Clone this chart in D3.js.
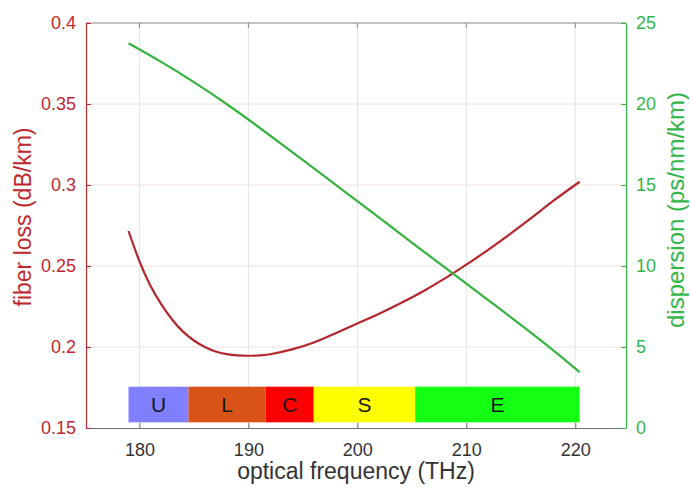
<!DOCTYPE html>
<html>
<head>
<meta charset="utf-8">
<script src="https://cdn.jsdelivr.net/npm/d3@7"></script>
<style>
  body { margin: 0; background: #fff; }
  text { font-family: "Liberation Sans", Arial, sans-serif; }
</style>
</head>
<body>
<svg width="691" height="490"></svg>
<script>
var svg = d3.select("svg"),
  width = +svg.attr("width"),
  height = +svg.attr("height");

// loss curve (dB/km) vs frequency (THz)
var lossFreq = [179.0, 180, 181, 182, 183, 184, 185, 186, 187, 188, 189, 190, 191, 192, 194, 196, 198, 200, 202, 204, 206, 208, 210, 212, 214, 216, 218, 220.4];
var lossVal = [0.2716, 0.253, 0.238, 0.2265, 0.217, 0.2095, 0.204, 0.2, 0.1972, 0.1956, 0.1948, 0.1946, 0.1948, 0.1955, 0.1985, 0.2028, 0.2085, 0.2145, 0.2205, 0.2271, 0.2343, 0.2422, 0.2508, 0.26, 0.2697, 0.2798, 0.2903, 0.302];

// dispersion (ps/nm/km)
var dispFreq = [179.0, 182, 185, 188, 191, 194, 197, 200, 203, 206, 209, 212, 215, 218, 220.4];
var dispVal = [23.75, 22.6, 21.35, 20.0, 18.55, 17.05, 15.53, 14.0, 12.47, 10.94, 9.42, 7.9, 6.36, 4.78, 3.45];

// transmission bands
var bandNames = ["U", "L", "C", "S", "E"];
var bandStart = [179.0, 184.5, 191.6, 196.0, 205.3];
var bandEnd = [184.5, 191.6, 196.0, 205.3, 220.4];
var bandColors = ["#7f7fff", "#d95319", "#ff0000", "#ffff00", "#14ff14"];

var xTicks = [180, 190, 200, 210, 220];
var lossTicks = [0.15, 0.2, 0.25, 0.3, 0.35, 0.4];
var dispTicks = [0, 5, 10, 15, 20, 25];

var redAxis = "#c0272d",
  redLine = "#b3262c",
  greenAxis = "#33b548",
  greenLine = "#35b33f";

var margin = { left: 86, right: 65, top: 23, bottom: 62 };
var x = d3.scaleLinear().domain([175.1, 224.65]).range([margin.left, width - margin.right]);
var yL = d3.scaleLinear().domain([0.15, 0.4]).range([height - margin.bottom, margin.top]);
var yR = d3.scaleLinear().domain([0, 25]).range([height - margin.bottom, margin.top]);

var x0 = margin.left, x1 = width - margin.right, yB = height - margin.bottom, yT = margin.top;

// grid
svg.append("g")
  .selectAll("line")
  .data(xTicks)
  .enter()
  .append("line")
  .attr("x1", function (d) { return x(d); })
  .attr("x2", function (d) { return x(d); })
  .attr("y1", yT)
  .attr("y2", yB)
  .attr("stroke", "#e4e4e4")
  .attr("stroke-width", 1);

svg.append("g")
  .selectAll("line")
  .data(lossTicks.slice(1, -1))
  .enter()
  .append("line")
  .attr("x1", x0)
  .attr("x2", x1)
  .attr("y1", function (d) { return yL(d); })
  .attr("y2", function (d) { return yL(d); })
  .attr("stroke", "#f0e0e0")
  .attr("stroke-width", 1);

// band strip
var barTop = 0.1755, barBot = 0.1535;
var bands = bandNames.map(function (n, i) {
  return { name: n, a: bandStart[i], b: bandEnd[i], c: bandColors[i] };
});
svg.append("g")
  .selectAll("rect")
  .data(bands)
  .enter()
  .append("rect")
  .attr("x", function (d) { return x(d.a); })
  .attr("width", function (d) { return x(d.b) - x(d.a); })
  .attr("y", yL(barTop))
  .attr("height", yL(barBot) - yL(barTop))
  .attr("fill", function (d) { return d.c; });

svg.append("g")
  .selectAll("text")
  .data(bands)
  .enter()
  .append("text")
  .attr("x", function (d) { return x((d.a + d.b) / 2); })
  .attr("y", yL((barTop + barBot) / 2))
  .attr("dy", "0.36em")
  .attr("text-anchor", "middle")
  .attr("font-size", 21)
  .attr("fill", "#161616")
  .text(function (d) { return d.name; });

// curves
var lossLine = d3.line()
  .x(function (d, i) { return x(lossFreq[i]); })
  .y(function (d) { return yL(d); })
  .curve(d3.curveNatural);

var dispLine = d3.line()
  .x(function (d, i) { return x(dispFreq[i]); })
  .y(function (d) { return yR(d); })
  .curve(d3.curveNatural);

svg.append("path")
  .datum(lossVal)
  .attr("d", lossLine)
  .attr("fill", "none")
  .attr("stroke", redLine)
  .attr("stroke-width", 2.2);

svg.append("path")
  .datum(dispVal)
  .attr("d", dispLine)
  .attr("fill", "none")
  .attr("stroke", greenLine)
  .attr("stroke-width", 2.2);

// box / axes
svg.append("line").attr("x1", x0).attr("x2", x1).attr("y1", yT).attr("y2", yT)
  .attr("stroke", "#8a8a8a").attr("stroke-width", 1.2);

var xAxis = svg.append("g")
  .attr("transform", "translate(0," + yB + ")")
  .call(d3.axisBottom(x).tickValues(xTicks).tickSizeInner(-5).tickSizeOuter(0).tickPadding(15).tickFormat(d3.format("d")));
xAxis.select(".domain").attr("stroke", "#6e6e6e").attr("stroke-width", 1.2);
xAxis.selectAll(".tick line").attr("stroke", "#6e6e6e");
xAxis.selectAll("text").attr("font-size", 18).attr("fill", "#333333")
  .attr("font-family", "'Liberation Sans', Arial, sans-serif");

// top ticks
svg.append("g")
  .selectAll("line")
  .data(xTicks)
  .enter()
  .append("line")
  .attr("x1", function (d) { return x(d); })
  .attr("x2", function (d) { return x(d); })
  .attr("y1", yT)
  .attr("y2", yT + 5)
  .attr("stroke", "#8a8a8a");

var yAxisL = svg.append("g")
  .attr("transform", "translate(" + x0 + ",0)")
  .call(d3.axisLeft(yL).tickValues(lossTicks).tickSizeInner(-5).tickSizeOuter(0).tickPadding(10).tickFormat(function (d) { return String(+d.toFixed(2)); }));
yAxisL.select(".domain").attr("stroke", redAxis).attr("stroke-width", 1.2);
yAxisL.selectAll(".tick line").attr("stroke", redAxis);
yAxisL.selectAll("text").attr("font-size", 18).attr("fill", redAxis)
  .attr("font-family", "'Liberation Sans', Arial, sans-serif");

var yAxisR = svg.append("g")
  .attr("transform", "translate(" + x1 + ",0)")
  .call(d3.axisRight(yR).tickValues(dispTicks).tickSizeInner(-5).tickSizeOuter(0).tickPadding(10).tickFormat(d3.format("d")));
yAxisR.select(".domain").attr("stroke", greenAxis).attr("stroke-width", 1.2);
yAxisR.selectAll(".tick line").attr("stroke", greenAxis);
yAxisR.selectAll("text").attr("font-size", 18).attr("fill", greenAxis)
  .attr("font-family", "'Liberation Sans', Arial, sans-serif");

// axis titles
svg.append("text")
  .attr("x", (x0 + x1) / 2)
  .attr("y", 479)
  .attr("text-anchor", "middle")
  .attr("font-size", 23)
  .attr("fill", "#333333")
  .text("optical frequency (THz)");

svg.append("text")
  .attr("transform", "translate(31,217) rotate(-90)")
  .attr("text-anchor", "middle")
  .attr("font-size", 23)
  .attr("fill", redAxis)
  .text("fiber loss (dB/km)");

svg.append("text")
  .attr("transform", "translate(684,210) rotate(-90)")
  .attr("text-anchor", "middle")
  .attr("font-size", 24)
  .attr("fill", greenAxis)
  .text("dispersion (ps/nm/km)");
</script>
</body>
</html>
